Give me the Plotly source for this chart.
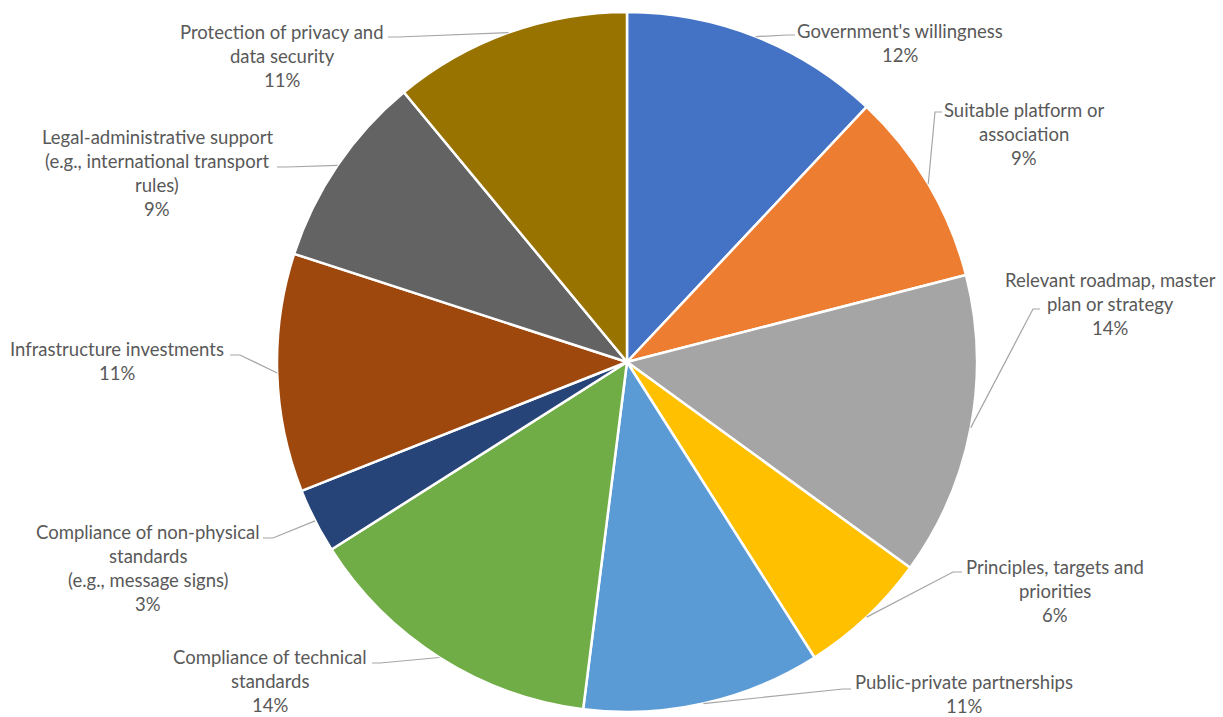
import numpy as np
import plotly.graph_objects as go

# Slice categories (clockwise from 12 o'clock), shares in percent, colours
categories = [
    "Government's willingness",
    "Suitable platform or<br>association",
    "Relevant roadmap, master<br>plan or strategy",
    "Principles, targets and<br>priorities",
    "Public-private partnerships",
    "Compliance of technical<br>standards",
    "Compliance of non-physical<br>standards<br>(e.g., message signs)",
    "Infrastructure investments",
    "Legal-administrative support<br>(e.g., international transport<br>rules)",
    "Protection of privacy and<br>data security",
]
shares = [12, 9, 14, 6, 11, 14, 3, 11, 9, 11]
colors = ["#4472C4", "#ED7D31", "#A5A5A5", "#FFC000", "#5B9BD5",
          "#70AD47", "#264478", "#9E480E", "#636363", "#997300"]

# Canvas and pie geometry (pixels)
W, H = 1223, 717
CX, CY, R = 627, 362, 350

# Label placement: text-block centre x, first-line y, knee point, line end point
label_cx = [900, 1024, 1110, 1055, 964, 270, 148, 117, 157, 282]
label_y0 = [31, 110, 280, 567, 682, 657, 532, 349, 137, 32]
knees = [(787, 35), (935, 112), (1033, 309), (953, 572), (843, 689),
         (380, 663), (273, 538), (240, 355), (287, 167), (398, 37)]
ends = [(795, 35), (942, 112), (1040, 309), (962, 572), (851, 689),
        (372, 663), (263, 538), (230, 355), (277, 167), (388, 37)]
LINE_STEP = 24
TEXT_COLOR = "#595959"
FONT = "Lato"
FONT_SIZE = 18.5

fig = go.Figure()
fig.add_trace(go.Pie(
    labels=[c.replace("<br>", " ") for c in categories],
    values=shares,
    sort=False,
    direction="clockwise",
    rotation=0,
    marker=dict(colors=colors, line=dict(color="white", width=2.5)),
    textinfo="none",
    showlegend=False,
    domain=dict(x=[(CX - R) / W, (CX + R) / W],
                y=[1 - (CY + R) / H, 1 - (CY - R) / H]),
))

total = sum(shares)
cum = np.cumsum([0] + shares)
shapes = []
annotations = []
for i, (cat, val) in enumerate(zip(categories, shares)):
    mid = np.deg2rad((cum[i] + val / 2) / total * 360)
    ex, ey = CX + R * np.sin(mid), CY - R * np.cos(mid)
    kx, ky = knees[i]
    tx, ty = ends[i]
    shapes.append(dict(type="path", xref="x", yref="y",
                       path=f"M{ex:.1f},{ey:.1f} L{kx},{ky} L{tx},{ty}",
                       line=dict(color="#A6A6A6", width=1.2)))
    lines = cat.split("<br>") + [f"{val}%"]
    for j, ln in enumerate(lines):
        annotations.append(dict(x=label_cx[i], y=label_y0[i] + j * LINE_STEP,
                                xref="x", yref="y", text=ln, showarrow=False,
                                xanchor="center", yanchor="middle", borderpad=0,
                                font=dict(family=FONT, size=FONT_SIZE, color=TEXT_COLOR)))

fig.update_layout(
    width=W, height=H,
    margin=dict(l=0, r=0, t=0, b=0),
    paper_bgcolor="white", plot_bgcolor="rgba(0,0,0,0)",
    xaxis=dict(range=[0, W], visible=False, fixedrange=True),
    yaxis=dict(range=[H, 0], visible=False, fixedrange=True),
    shapes=shapes,
    annotations=annotations,
)

fig.write_html("out.html")
